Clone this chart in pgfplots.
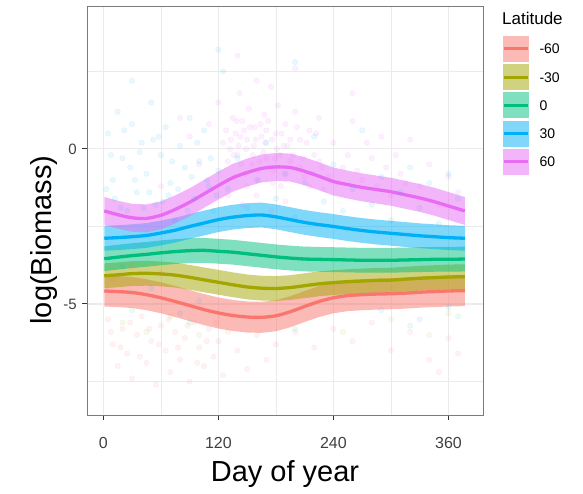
\documentclass[border=0pt]{standalone}
\usepackage{fontspec}
\setmainfont{Liberation Sans}
\usepackage{pgfplots}
\pgfplotsset{compat=1.18}
\usepackage{pgfplotstable}
\usepgfplotslibrary{fillbetween}
\definecolor{cA}{HTML}{F8766D}
\definecolor{cB}{HTML}{A3A500}
\definecolor{cC}{HTML}{00BF7D}
\definecolor{cD}{HTML}{00B0F6}
\definecolor{cE}{HTML}{E76BF3}
\definecolor{gridc}{HTML}{EBEBEB}
\definecolor{frame}{HTML}{7A7A7A}
\definecolor{tickc}{HTML}{333333}

\pgfplotstableread{
day  sm60   sm30   s0     s30    s60
1    -4.58  -4.09  -3.54  -2.88  -2.00
15   -4.60  -4.06  -3.49  -2.86  -2.12
30   -4.63  -4.02  -3.44  -2.83  -2.22
45   -4.70  -4.01  -3.40  -2.79  -2.24
60   -4.80  -4.03  -3.35  -2.71  -2.14
75   -4.92  -4.07  -3.31  -2.62  -1.95
90   -5.05  -4.14  -3.28  -2.50  -1.72
105  -5.18  -4.22  -3.27  -2.39  -1.45
120  -5.29  -4.30  -3.30  -2.28  -1.18
135  -5.37  -4.38  -3.33  -2.20  -0.93
150  -5.42  -4.45  -3.38  -2.15  -0.76
165  -5.43  -4.49  -3.43  -2.13  -0.63
180  -5.38  -4.50  -3.48  -2.19  -0.58
195  -5.25  -4.47  -3.52  -2.28  -0.60
210  -5.08  -4.41  -3.55  -2.37  -0.72
225  -4.92  -4.35  -3.56  -2.44  -0.88
240  -4.80  -4.31  -3.57  -2.50  -1.05
255  -4.73  -4.28  -3.58  -2.57  -1.15
270  -4.70  -4.26  -3.59  -2.63  -1.24
285  -4.68  -4.24  -3.59  -2.68  -1.31
300  -4.67  -4.23  -3.59  -2.72  -1.38
315  -4.65  -4.20  -3.58  -2.76  -1.48
330  -4.62  -4.17  -3.57  -2.80  -1.58
345  -4.60  -4.15  -3.56  -2.83  -1.70
360  -4.58  -4.13  -3.56  -2.86  -1.84
377  -4.57  -4.12  -3.55  -2.88  -2.00
}\smoothtab

\begin{document}
\begin{tikzpicture}
\begin{axis}[
  at={(0pt,0pt)}, anchor=south west,
  scale only axis, width=396pt, height=409pt,
  xmin=-17, xmax=396, ymin=-8.58, ymax=4.61,
  axis line style={frame, line width=0.9pt},
  xtick={0,120,240,360}, xticklabels={0,120,240,360},
  ytick={-5,0}, yticklabels={-5,0},
  minor xtick={60,180,300}, minor ytick={-7.5,-2.5,2.5},
  grid=both,
  major grid style={gridc, line width=1.1pt},
  minor grid style={gridc, line width=0.6pt},
  tick align=outside, xtick pos=bottom, ytick pos=left,
  major tick length=5pt, minor tick length=0pt,
  tick style={tickc, line width=1pt},
  xticklabel style={font=\fontsize{16}{16}\selectfont, text=black!75, inner sep=0pt, anchor=base, yshift=-28pt},
  yticklabel style={font=\fontsize{15}{15}\selectfont, text=black!75, inner sep=0pt, anchor=east, xshift=-5pt},
  xlabel={Day of year},
  ylabel={log(Biomass)},
  xlabel style={font=\fontsize{29}{29}\selectfont, inner sep=0pt, at={(axis description cs:0.5,-0.1614)}, anchor=base},
  ylabel style={font=\fontsize{29}{29}\selectfont, inner sep=0pt, at={(axis description cs:-0.0891,0.428)}, anchor=base},
]
% faint observations
\addplot[only marks, mark=*, cE, mark size=2.8pt, opacity=0.1] coordinates {
(110,0.8)(120,1.5)(125,0.2)(130,-0.4)(135,1.0)(138,0.5)(140,-0.2)(142,1.8)(145,0.9)(148,-0.8)(150,0.3)(152,1.3)(155,-0.5)(158,0.7)(160,2.2)(162,-1.0)(165,0.4)(168,1.1)(170,-0.3)(172,0.9)(175,2.0)(178,-0.7)(180,0.5)(182,1.4)(185,-1.2)(188,0.1)(190,0.8)(195,-0.4)(200,1.2)(205,0.3)(210,-0.9)(215,0.6)(220,-0.2)(225,1.0)(230,-1.3)(240,0.2)(250,-0.6)(260,0.9)(270,-1.0)(280,-0.3)(290,0.4)(300,-1.5)(310,-0.8)(320,0.3)(330,-1.2)(340,-0.5)(350,-1.8)(360,-0.9)(370,-1.4)(100,-0.5)(90,0.4)(80,1.0)(60,-1.2)(130,-1.5)(145,-1.8)(160,-1.5)(175,-2.0)(190,-1.7)(132,0.0)(137,-0.9)(143,0.4)(150,-1.2)(157,0.1)(163,-0.4)(170,0.6)(177,-1.1)(184,-0.2)(195,0.3)(205,-0.6)(215,-1.2)(225,-0.4)(140,3.0)(200,2.6)(260,1.8)
(128,0.6)(133,0.3)(136,-0.2)(139,0.9)(141,0.1)(144,-0.5)(147,0.6)(149,0.0)(153,0.7)(156,-0.2)(159,0.3)(161,-0.7)(164,0.8)(167,-0.1)(169,0.2)(173,-0.6)(176,0.3)(179,-0.3)(181,0.0)(186,0.5)(189,-0.8)(192,0.1)(198,-0.2)(202,0.7)(208,-0.3)(212,0.2)(218,-0.8)(222,0.5)(228,-0.6)(235,-0.9)(245,-1.1)(255,-0.2)(265,-0.7)(275,0.2)(285,-1.2)(295,-0.6)(305,-0.2)(315,-1.1)
};
\addplot[only marks, mark=*, cD, mark size=2.8pt, opacity=0.09] coordinates {
(5,0.5)(10,-1.0)(15,1.2)(20,-0.3)(25,-2.0)(30,0.8)(35,-1.4)(40,0.2)(45,-0.8)(50,1.5)(55,-1.8)(60,-0.2)(65,0.7)(70,-1.1)(75,-2.3)(80,0.1)(85,-0.6)(90,1.0)(95,-1.6)(100,-0.4)(105,0.6)(110,-1.2)(115,-2.0)(120,-0.7)(125,2.5)(130,-1.3)(140,-0.3)(150,-1.9)(160,-1.0)(170,0.2)(180,-1.6)(190,-0.8)(200,-2.2)(210,-1.1)(220,0.4)(230,-1.7)(240,-0.5)(250,-2.0)(260,-1.3)(270,0.6)(280,-1.8)(290,-0.9)(300,-2.3)(310,-1.4)(320,-0.6)(330,-1.9)(340,-1.1)(350,-2.4)(360,-0.8)(370,-1.6)(20,-3.8)(50,-4.5)(80,-5.3)(100,-4.9)(290,-5.2)(330,-5.5)(360,-5.1)(120,3.2)(30,2.2)(200,2.8)(12,-1.6)(28,-0.6)(42,-1.9)(58,0.4)(68,-1.5)(88,-2.0)(108,-1.0)
(3,-1.3)(8,-0.2)(18,-1.9)(22,0.6)(33,-1.0)(38,-0.1)(48,-1.4)(52,0.3)(62,-1.7)(72,-0.4)(78,-1.3)(92,-0.9)(98,0.2)(112,-0.3)(118,-1.5)
};
\addplot[only marks, mark=*, cA, mark size=2.8pt, opacity=0.09] coordinates {
(5,-5.5)(10,-6.3)(15,-7.0)(20,-5.8)(25,-6.6)(30,-7.4)(35,-6.0)(40,-5.4)(45,-6.9)(50,-6.2)(55,-7.6)(60,-5.7)(65,-6.5)(70,-7.2)(75,-5.9)(80,-6.8)(85,-6.1)(90,-7.5)(95,-5.6)(100,-6.4)(105,-7.0)(110,-5.8)(115,-6.7)(120,-6.2)(125,-7.3)(130,-5.9)(140,-6.5)(150,-7.1)(160,-6.0)(170,-6.8)(180,-6.3)(200,-5.9)(220,-6.4)(240,-5.8)(260,-6.2)(280,-5.6)(300,-6.5)(320,-5.9)(340,-6.8)(360,-6.1)(370,-6.6)(350,-7.2)(10,-4.2)(30,-3.8)(60,-4.0)
(8,-5.9)(18,-6.4)(28,-5.6)(38,-6.7)(48,-5.8)(58,-6.3)(68,-5.5)(78,-6.4)(88,-5.7)(98,-6.9)(108,-6.2)(118,-5.6)
};
\addplot[only marks, mark=*, cB, mark size=2.8pt, opacity=0.08] coordinates {
(20,-5.6)(45,-5.9)(70,-5.4)(100,-6.0)(300,-5.5)(340,-6.0)(360,-5.3)(250,-5.9)
};
\addplot[only marks, mark=*, cC, mark size=2.8pt, opacity=0.08] coordinates {
(30,-5.2)(90,-5.6)(200,-5.8)(320,-5.7)(370,-5.4)
};
% -60
\addplot[name path=a1, draw=none] table[x=day, y expr=\thisrow{sm60}+0.5]{\smoothtab};
\addplot[name path=a2, draw=none] table[x=day, y expr=\thisrow{sm60}-0.5]{\smoothtab};
\addplot[fill=cA, fill opacity=0.5, draw=none] fill between[of=a1 and a2];
\addplot[cA, line width=3.3pt, smooth] table[x=day, y=sm60]{\smoothtab};
% -30
\addplot[name path=b1, draw=none] table[x=day, y expr=\thisrow{sm30}+0.4]{\smoothtab};
\addplot[name path=b2, draw=none] table[x=day, y expr=\thisrow{sm30}-0.4]{\smoothtab};
\addplot[fill=cB, fill opacity=0.5, draw=none] fill between[of=b1 and b2];
\addplot[cB, line width=3.3pt, smooth] table[x=day, y=sm30]{\smoothtab};
% 0
\addplot[name path=c1, draw=none] table[x=day, y expr=\thisrow{s0}+0.4]{\smoothtab};
\addplot[name path=c2, draw=none] table[x=day, y expr=\thisrow{s0}-0.4]{\smoothtab};
\addplot[fill=cC, fill opacity=0.5, draw=none] fill between[of=c1 and c2];
\addplot[cC, line width=3.3pt, smooth] table[x=day, y=s0]{\smoothtab};
% 30
\addplot[name path=d1, draw=none] table[x=day, y expr=\thisrow{s30}+0.4]{\smoothtab};
\addplot[name path=d2, draw=none] table[x=day, y expr=\thisrow{s30}-0.4]{\smoothtab};
\addplot[fill=cD, fill opacity=0.5, draw=none] fill between[of=d1 and d2];
\addplot[cD, line width=3.3pt, smooth] table[x=day, y=s30]{\smoothtab};
% 60
\addplot[name path=e1, draw=none] table[x=day, y expr=\thisrow{s60}+0.45]{\smoothtab};
\addplot[name path=e2, draw=none] table[x=day, y expr=\thisrow{s60}-0.45]{\smoothtab};
\addplot[fill=cE, fill opacity=0.5, draw=none] fill between[of=e1 and e2];
\addplot[cE, line width=3.3pt, smooth] table[x=day, y=s60]{\smoothtab};
\end{axis}
% legend
\node[anchor=base west, inner sep=0pt, font=\fontsize{17}{17}\selectfont] at (415pt,390pt) {Latitude};
\foreach \c/\lab/\yy in {cA/-60/366.2, cB/-30/337.8, cC/0/309.5, cD/30/281.3, cE/60/253} {
  \fill[\c!50!white] (416pt,\yy pt-13pt) rectangle (442pt,\yy pt+13pt);
  \draw[\c, line width=3pt] (417pt,\yy pt) -- (441pt,\yy pt);
  \node[anchor=west, inner sep=0pt, font=\fontsize{14}{14}\selectfont] at (452.3pt,\yy pt) {\lab};
}
\pgfresetboundingbox
\useasboundingbox (-87pt,-78pt) rectangle (496pt,415pt);
\end{tikzpicture}
\end{document}
